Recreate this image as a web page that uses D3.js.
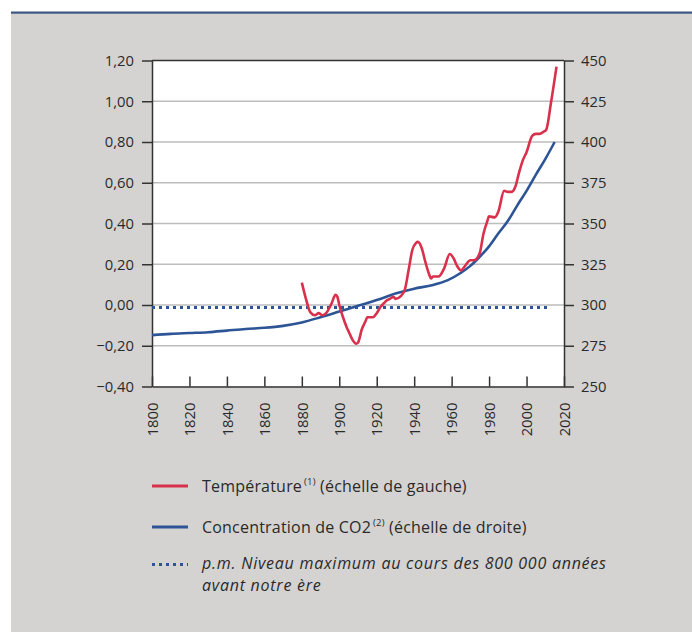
<!DOCTYPE html>
<html>
<head>
<meta charset="utf-8">
<script src="https://cdn.jsdelivr.net/npm/d3@7"></script>
<style>
  body { margin: 0; background: #ffffff; }
  svg { display: block; }
</style>
</head>
<body>
<svg id="chart" width="692" height="632"></svg>
<script>
// Temperature anomaly (°C, left scale)
const tempYears = [1880, 1882.5, 1884.5, 1887, 1889, 1891, 1893, 1895, 1896, 1898, 1899, 1900, 1902, 1904, 1905, 1907, 1909, 1910,
  1912, 1914, 1915, 1918, 1920, 1922, 1924, 1925, 1927, 1929, 1930, 1933, 1935, 1937, 1939, 1941, 1942, 1944, 1946, 1948, 1949,
  1950, 1953, 1956, 1959, 1961, 1963, 1965, 1967, 1970, 1972, 1975, 1977, 1979, 1980, 1983, 1985, 1988, 1990, 1992, 1994, 1996,
  1998, 2000, 2003, 2005, 2007, 2009, 2010.5, 2013, 2016];
const tempValues = [0.11, 0.02, -0.035, -0.05, -0.04, -0.05, -0.04, -0.01, 0.01, 0.05, 0.04, 0.00, -0.06, -0.11, -0.13, -0.17, -0.19, -0.185,
  -0.12, -0.08, -0.06, -0.06, -0.04, -0.01, 0.01, 0.02, 0.03, 0.04, 0.03, 0.045, 0.075, 0.17, 0.27, 0.305, 0.31, 0.28, 0.21, 0.15, 0.13,
  0.14, 0.14, 0.18, 0.25, 0.23, 0.19, 0.17, 0.19, 0.22, 0.22, 0.255, 0.35, 0.41, 0.435, 0.43, 0.46, 0.56, 0.555, 0.555, 0.58, 0.65,
  0.71, 0.75, 0.83, 0.84, 0.84, 0.85, 0.86, 0.99, 1.17];

// CO2 concentration (ppm, right scale)
const co2Years = [1800, 1810, 1820, 1830, 1840, 1850, 1860, 1870, 1880, 1890, 1900, 1910, 1920, 1930, 1940, 1950, 1958,
  1965, 1970, 1975, 1980, 1985, 1990, 1995, 2000, 2005, 2010, 2015];
const co2Values = [281.5, 282.3, 282.8, 283.3, 284.3, 285.3, 286.0, 287.2, 289.3, 292.5, 296.0, 299.5, 303.0, 307.0, 310.0, 312.3, 315.3,
  319.8, 324.0, 329.6, 336.0, 344.0, 351.5, 361.0, 370.0, 380.0, 389.5, 400.0];

// Highest CO2 level of the last 800 000 years (ppm, right scale)
const ceilingYears = [1800, 2013];
const ceilingValue = 298.5;

const leftTicks = [-0.4, -0.2, 0, 0.2, 0.4, 0.6, 0.8, 1.0, 1.2];
const rightTicks = [250, 275, 300, 325, 350, 375, 400, 425, 450];
const yearTicks = [1800, 1820, 1840, 1860, 1880, 1900, 1920, 1940, 1960, 1980, 2000, 2020];

const legendTemp = ["Température", "(1)", " (échelle de gauche)"];
const legendCo2 = ["Concentration de CO2", "(2)", " (échelle de droite)"];
const legendCeiling = ["p.m. Niveau maximum au cours des 800 000 années", "avant notre ère"];

const RED = "#d9304c";
const BLUE = "#2d5596";
const TEXT = "#2a2a2a";
const FONT = "'Open Sans', 'Noto Sans', sans-serif";

const svg = d3.select("#chart");

// page panel
svg.append("rect").attr("x", 11).attr("y", 13).attr("width", 681).attr("height", 619).attr("fill", "#d4d3d1");
svg.append("rect").attr("x", 11).attr("y", 11.5).attr("width", 681).attr("height", 2.2).attr("fill", "#3e5684");

const plotL = 152, plotR = 564, plotT = 60.5, plotB = 386.5;
const x = d3.scaleLinear().domain([1800, 2020]).range([plotL, plotR]);
const yL = d3.scaleLinear().domain([-0.4, 1.2]).range([plotB, plotT]);
const yR = d3.scaleLinear().domain([250, 450]).range([plotB, plotT]);

const fr = d3.formatLocale({ decimal: ",", thousands: " ", grouping: [3], currency: ["", " €"], minus: "\u2212" });
const fmt2 = fr.format(".2f");

// plot background
svg.append("rect").attr("x", plotL).attr("y", plotT).attr("width", plotR - plotL).attr("height", plotB - plotT).attr("fill", "#ffffff");

// horizontal grid
svg.append("g").selectAll("line")
  .data(leftTicks.slice(1, -1))
  .join("line")
  .attr("x1", plotL).attr("x2", plotR)
  .attr("y1", d => yL(d)).attr("y2", d => yL(d))
  .attr("stroke", "#bdbdbd").attr("stroke-width", 1.5);

// top border of the plot
svg.append("line").attr("x1", plotL).attr("x2", plotR).attr("y1", plotT).attr("y2", plotT)
  .attr("stroke", "#333").attr("stroke-width", 1.5);

function styleAxis(g) {
  g.attr("font-family", FONT).attr("font-size", 14.8);
  g.selectAll("path.domain").attr("stroke", "#333").attr("stroke-width", 1.5);
  g.selectAll(".tick line").attr("stroke", "#333").attr("stroke-width", 1.5);
  g.selectAll(".tick text").attr("fill", TEXT);
}

svg.append("g").attr("transform", `translate(${plotL},0)`)
  .call(d3.axisLeft(yL).tickValues(leftTicks).tickFormat(fmt2).tickSize(10).tickSizeOuter(0).tickPadding(8))
  .call(styleAxis);

svg.append("g").attr("transform", `translate(${plotR},0)`)
  .call(d3.axisRight(yR).tickValues(rightTicks).tickFormat(d3.format("d")).tickSize(10).tickSizeOuter(0).tickPadding(7))
  .call(styleAxis);

const xg = svg.append("g").attr("transform", `translate(0,${plotB})`)
  .call(d3.axisBottom(x).tickValues(yearTicks).tickFormat(d3.format("d")).tickSize(-10).tickSizeOuter(0))
  .call(styleAxis);
xg.selectAll(".tick text")
  .attr("transform", "rotate(-90)")
  .attr("text-anchor", "end")
  .attr("x", -16).attr("y", 0).attr("dy", "0.35em");

// 800 000-year maximum
svg.append("line")
  .attr("x1", x(ceilingYears[0])).attr("x2", x(ceilingYears[1]))
  .attr("y1", yR(ceilingValue)).attr("y2", yR(ceilingValue))
  .attr("stroke", BLUE).attr("stroke-width", 3).attr("stroke-dasharray", "3,4");

// CO2 curve
const co2Line = d3.line().x(d => x(d[0])).y(d => yR(d[1])).curve(d3.curveMonotoneX);
svg.append("path")
  .datum(co2Years.map((yr, i) => [yr, co2Values[i]]))
  .attr("d", co2Line)
  .attr("fill", "none").attr("stroke", BLUE).attr("stroke-width", 2.6);

// temperature curve
const tempLine = d3.line().x(d => x(d[0])).y(d => yL(d[1])).curve(d3.curveMonotoneX);
svg.append("path")
  .datum(tempYears.map((yr, i) => [yr, tempValues[i]]))
  .attr("d", tempLine)
  .attr("fill", "none").attr("stroke", RED).attr("stroke-width", 2.6).attr("stroke-linejoin", "round");

// legend
const lg = svg.append("g").attr("font-family", FONT).attr("fill", TEXT);
const lx0 = 152, lx1 = 188, tx = 202;

function legendEntry(y, color, parts) {
  lg.append("line").attr("x1", lx0).attr("x2", lx1).attr("y1", y).attr("y2", y)
    .attr("stroke", color).attr("stroke-width", 3);
  const t = lg.append("text").attr("x", tx).attr("y", y + 6).attr("font-size", 16).attr("letter-spacing", 0.2);
  t.append("tspan").text(parts[0]);
  t.append("tspan").attr("font-size", 9.5).attr("dy", -7).attr("dx", 2).text(parts[1]);
  t.append("tspan").attr("dy", 7).text(parts[2]);
}
legendEntry(486, RED, legendTemp);
legendEntry(527, BLUE, legendCo2);

lg.append("line").attr("x1", lx0).attr("x2", lx1).attr("y1", 564.5).attr("y2", 564.5)
  .attr("stroke", BLUE).attr("stroke-width", 3).attr("stroke-dasharray", "3,4");
const it = lg.append("text").attr("x", tx).attr("font-size", 16).attr("font-style", "italic").attr("letter-spacing", 0.75);
it.append("tspan").attr("x", tx).attr("y", 569).text(legendCeiling[0]);
it.append("tspan").attr("x", tx).attr("y", 591).text(legendCeiling[1]);
</script>
</body>
</html>
